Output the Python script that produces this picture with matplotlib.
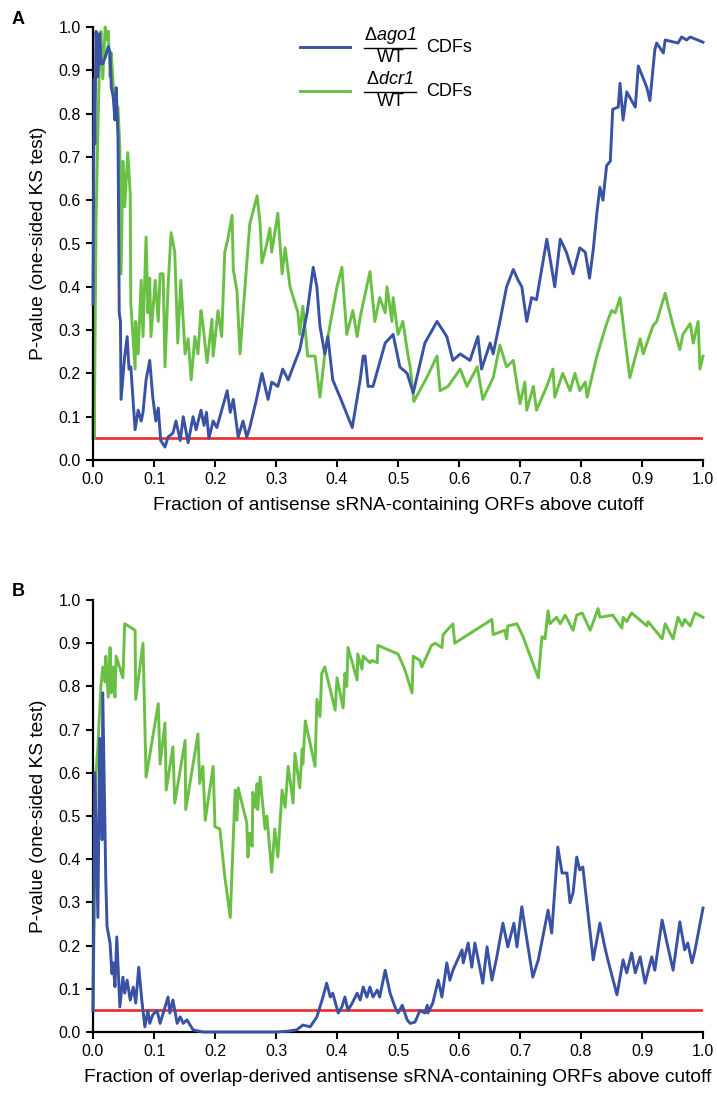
import matplotlib
matplotlib.use("Agg")
import matplotlib.pyplot as plt
from matplotlib.lines import Line2D
from matplotlib.ticker import MultipleLocator, FormatStrFormatter

plt.rcParams['font.family'] = ['Liberation Sans', 'DejaVu Sans']
plt.rcParams['mathtext.fontset'] = 'custom'
plt.rcParams['mathtext.rm'] = 'Liberation Sans'
plt.rcParams['mathtext.it'] = 'Liberation Sans:italic'
plt.rcParams['mathtext.bf'] = 'Liberation Sans:bold'

# ---------------- data (x = fraction above cutoff, y = P-value) ----------------
blue_a = [(0.000,0.36),(0.002,0.88),(0.003,0.73),(0.005,0.99),(0.008,0.885),(0.011,0.985),(0.013,0.915),
          (0.016,0.915),(0.020,0.93),(0.025,0.955),(0.028,0.94),(0.030,0.86),(0.033,0.84),(0.036,0.785),
          (0.038,0.86),(0.041,0.745),(0.043,0.34),(0.045,0.32),(0.046,0.14),(0.052,0.24),(0.056,0.285),
          (0.059,0.21),(0.062,0.215),(0.069,0.07),(0.074,0.115),(0.079,0.09),(0.082,0.11),(0.087,0.185),
          (0.093,0.23),(0.098,0.145),(0.103,0.09),(0.107,0.12),(0.111,0.045),(0.118,0.03),(0.123,0.053),
          (0.131,0.062),(0.136,0.09),(0.143,0.045),(0.148,0.10),(0.156,0.04),(0.164,0.10),(0.169,0.07),
          (0.177,0.115),(0.182,0.08),(0.186,0.11),(0.190,0.05),(0.197,0.09),(0.203,0.075),(0.212,0.12),
          (0.220,0.16),(0.225,0.11),(0.230,0.14),(0.238,0.053),(0.246,0.09),(0.252,0.053),(0.257,0.075),
          (0.268,0.14),(0.277,0.20),(0.287,0.14),(0.293,0.18),(0.303,0.17),(0.311,0.21),(0.320,0.185),
          (0.328,0.215),(0.339,0.255),(0.351,0.34),(0.361,0.445),(0.367,0.40),(0.372,0.31),(0.380,0.245),
          (0.385,0.285),(0.393,0.185),(0.405,0.145),(0.415,0.11),(0.425,0.075),(0.438,0.185),(0.443,0.24),
          (0.446,0.24),(0.451,0.17),(0.459,0.17),(0.479,0.27),(0.492,0.29),(0.503,0.215),(0.515,0.20),
          (0.525,0.155),(0.544,0.27),(0.564,0.32),(0.580,0.285),(0.590,0.23),(0.602,0.245),(0.618,0.23),
          (0.631,0.285),(0.637,0.21),(0.651,0.27),(0.656,0.245),(0.667,0.32),(0.678,0.40),(0.689,0.44),
          (0.697,0.415),(0.703,0.40),(0.711,0.32),(0.719,0.375),(0.727,0.37),(0.744,0.51),(0.757,0.40),
          (0.766,0.51),(0.776,0.48),(0.787,0.43),(0.798,0.49),(0.807,0.48),(0.814,0.42),(0.820,0.485),
          (0.826,0.57),(0.831,0.63),(0.836,0.60),(0.842,0.68),(0.848,0.69),(0.852,0.81),(0.861,0.815),
          (0.864,0.87),(0.869,0.785),(0.875,0.85),(0.883,0.83),(0.889,0.815),(0.894,0.91),(0.908,0.86),
          (0.913,0.83),(0.921,0.947),(0.924,0.963),(0.935,0.94),(0.938,0.97),(0.959,0.963),(0.965,0.977),
          (0.973,0.97),(0.979,0.977),(1.000,0.965)]

green_a = [(0.000,0.05),(0.001,0.36),(0.002,0.05),(0.005,0.555),(0.008,0.76),(0.011,0.94),(0.013,0.99),
           (0.016,0.88),(0.020,1.0),(0.021,0.97),(0.025,0.99),(0.028,0.885),(0.030,0.94),(0.036,0.80),
           (0.041,0.815),(0.044,0.72),(0.046,0.43),(0.049,0.69),(0.052,0.585),(0.057,0.71),(0.061,0.615),
           (0.062,0.36),(0.069,0.21),(0.070,0.32),(0.074,0.245),(0.079,0.415),(0.082,0.285),(0.087,0.515),
           (0.090,0.34),(0.093,0.42),(0.095,0.285),(0.102,0.415),(0.107,0.32),(0.110,0.43),(0.115,0.43),
           (0.118,0.215),(0.123,0.40),(0.128,0.525),(0.134,0.48),(0.139,0.27),(0.144,0.415),(0.151,0.245),
           (0.156,0.28),(0.161,0.185),(0.167,0.285),(0.172,0.245),(0.177,0.345),(0.180,0.315),(0.187,0.225),
           (0.195,0.325),(0.197,0.24),(0.205,0.345),(0.211,0.285),(0.216,0.48),(0.221,0.51),(0.228,0.565),
           (0.230,0.44),(0.236,0.39),(0.241,0.245),(0.246,0.34),(0.257,0.545),(0.269,0.61),(0.274,0.545),
           (0.277,0.455),(0.285,0.50),(0.290,0.535),(0.293,0.48),(0.303,0.57),(0.310,0.43),(0.315,0.49),
           (0.323,0.40),(0.336,0.34),(0.339,0.29),(0.344,0.355),(0.352,0.24),(0.364,0.24),(0.372,0.145),
           (0.380,0.245),(0.393,0.345),(0.400,0.40),(0.408,0.445),(0.416,0.29),(0.426,0.345),(0.433,0.285),
           (0.438,0.33),(0.454,0.435),(0.462,0.32),(0.470,0.375),(0.479,0.34),(0.482,0.40),(0.490,0.32),
           (0.492,0.375),(0.500,0.29),(0.508,0.32),(0.516,0.245),(0.520,0.215),(0.526,0.135),(0.547,0.19),
           (0.564,0.24),(0.569,0.16),(0.582,0.17),(0.602,0.21),(0.613,0.17),(0.630,0.215),(0.639,0.14),
           (0.656,0.19),(0.667,0.265),(0.678,0.215),(0.689,0.23),(0.700,0.13),(0.708,0.18),(0.711,0.115),
           (0.722,0.17),(0.727,0.115),(0.744,0.17),(0.754,0.21),(0.757,0.145),(0.770,0.20),(0.782,0.16),
           (0.790,0.20),(0.798,0.16),(0.807,0.18),(0.810,0.145),(0.826,0.24),(0.842,0.315),(0.850,0.345),
           (0.856,0.34),(0.864,0.375),(0.872,0.28),(0.880,0.19),(0.897,0.28),(0.902,0.245),(0.918,0.31),
           (0.924,0.32),(0.938,0.385),(0.943,0.355),(0.951,0.31),(0.962,0.255),(0.967,0.29),(0.979,0.315),
           (0.984,0.27),(0.992,0.32),(0.995,0.21),(1.000,0.24)]

blue_b = [(0.000,0.05),(0.003,0.60),(0.008,0.265),(0.011,0.68),(0.015,0.445),(0.016,0.785),(0.021,0.35),
          (0.023,0.245),(0.028,0.205),(0.031,0.135),(0.033,0.16),(0.036,0.105),(0.039,0.22),(0.044,0.058),
          (0.049,0.127),(0.052,0.09),(0.056,0.12),(0.061,0.074),(0.066,0.104),(0.070,0.067),(0.075,0.15),
          (0.080,0.074),(0.085,0.012),(0.090,0.05),(0.093,0.02),(0.098,0.04),(0.105,0.05),(0.110,0.02),
          (0.118,0.058),(0.123,0.081),(0.126,0.044),(0.131,0.074),(0.138,0.02),(0.143,0.035),(0.148,0.02),
          (0.154,0.028),(0.164,0.005),(0.180,0.0),(0.300,0.0),(0.320,0.002),(0.334,0.005),(0.344,0.016),
          (0.356,0.012),(0.367,0.035),(0.377,0.081),(0.383,0.113),(0.389,0.081),(0.393,0.09),(0.402,0.044),
          (0.408,0.058),(0.413,0.081),(0.418,0.05),(0.425,0.067),(0.433,0.09),(0.438,0.074),(0.443,0.104),
          (0.449,0.081),(0.454,0.104),(0.459,0.081),(0.466,0.097),(0.470,0.081),(0.479,0.143),(0.487,0.09),
          (0.495,0.058),(0.500,0.044),(0.507,0.062),(0.515,0.028),(0.520,0.02),(0.528,0.023),(0.536,0.05),
          (0.544,0.044),(0.548,0.062),(0.549,0.044),(0.557,0.067),(0.566,0.12),(0.572,0.081),(0.580,0.16),
          (0.585,0.12),(0.590,0.143),(0.605,0.19),(0.607,0.16),(0.615,0.206),(0.621,0.15),(0.626,0.206),
          (0.634,0.15),(0.639,0.113),(0.646,0.197),(0.654,0.12),(0.662,0.174),(0.672,0.252),(0.680,0.197),
          (0.690,0.252),(0.695,0.197),(0.703,0.29),(0.708,0.243),(0.721,0.127),(0.730,0.167),(0.746,0.282),
          (0.752,0.229),(0.762,0.428),(0.769,0.368),(0.777,0.368),(0.782,0.299),(0.787,0.322),(0.793,0.405),
          (0.798,0.375),(0.803,0.382),(0.820,0.167),(0.831,0.252),(0.839,0.197),(0.844,0.167),(0.859,0.086),
          (0.869,0.167),(0.875,0.137),(0.883,0.183),(0.889,0.137),(0.897,0.174),(0.905,0.113),(0.916,0.174),
          (0.921,0.143),(0.933,0.259),(0.941,0.206),(0.951,0.143),(0.962,0.255),(0.970,0.19),(0.975,0.206),
          (0.982,0.16),(0.987,0.19),(1.000,0.287)]

green_b = [(0.000,0.05),(0.005,0.60),(0.008,0.66),(0.013,0.80),(0.016,0.845),(0.020,0.81),(0.021,0.87),
           (0.025,0.775),(0.028,0.89),(0.030,0.785),(0.033,0.845),(0.036,0.775),(0.038,0.87),(0.049,0.82),
           (0.052,0.945),(0.069,0.93),(0.070,0.77),(0.082,0.90),(0.087,0.59),(0.107,0.76),(0.110,0.62),
           (0.118,0.715),(0.120,0.56),(0.131,0.66),(0.134,0.53),(0.151,0.675),(0.152,0.515),(0.172,0.69),
           (0.175,0.575),(0.180,0.615),(0.184,0.49),(0.197,0.615),(0.200,0.475),(0.208,0.47),(0.216,0.36),
           (0.225,0.265),(0.233,0.56),(0.236,0.49),(0.238,0.565),(0.252,0.485),(0.254,0.405),(0.257,0.46),
           (0.261,0.43),(0.262,0.555),(0.266,0.52),(0.269,0.575),(0.270,0.515),(0.274,0.59),(0.282,0.47),
           (0.285,0.50),(0.293,0.37),(0.298,0.47),(0.303,0.405),(0.310,0.56),(0.315,0.52),(0.320,0.615),
           (0.328,0.53),(0.331,0.645),(0.339,0.565),(0.343,0.655),(0.344,0.62),(0.348,0.72),(0.364,0.615),
           (0.367,0.77),(0.372,0.73),(0.375,0.83),(0.380,0.845),(0.397,0.745),(0.400,0.82),(0.410,0.75),
           (0.413,0.83),(0.416,0.80),(0.418,0.89),(0.433,0.815),(0.434,0.875),(0.441,0.84),(0.443,0.87),
           (0.454,0.855),(0.457,0.86),(0.466,0.855),(0.467,0.895),(0.500,0.875),(0.511,0.84),(0.523,0.785),
           (0.525,0.87),(0.536,0.86),(0.539,0.845),(0.555,0.895),(0.561,0.90),(0.572,0.89),(0.574,0.92),
           (0.590,0.945),(0.593,0.90),(0.654,0.955),(0.656,0.92),(0.675,0.93),(0.678,0.91),(0.680,0.94),
           (0.695,0.945),(0.705,0.915),(0.730,0.82),(0.736,0.915),(0.741,0.91),(0.746,0.975),(0.749,0.945),
           (0.760,0.96),(0.766,0.945),(0.774,0.965),(0.787,0.93),(0.793,0.965),(0.802,0.97),(0.815,0.93),
           (0.823,0.96),(0.828,0.98),(0.831,0.96),(0.852,0.965),(0.867,0.935),(0.869,0.96),(0.875,0.95),
           (0.883,0.97),(0.908,0.94),(0.910,0.95),(0.933,0.91),(0.938,0.945),(0.951,0.91),(0.959,0.96),
           (0.966,0.94),(0.970,0.955),(0.979,0.94),(0.987,0.97),(1.000,0.96)]

threshold = 0.05
legend_numerators = [r'$\Delta$ago1', r'$\Delta$dcr1']
legend_denominator = 'WT'
legend_suffix = 'CDFs'
xlabels = ['Fraction of antisense sRNA-containing ORFs above cutoff',
           'Fraction of overlap-derived antisense sRNA-containing ORFs above cutoff']
ylabel = 'P-value (one-sided KS test)'
panel_letters = ['A', 'B']

BLUE = '#3a52a3'
GREEN = '#6abf45'
RED = '#ee2a2e'
colors = [BLUE, GREEN]

W, H = 717, 1106
fig = plt.figure(figsize=(W / 100, H / 100), dpi=100)
axA = fig.add_axes([93 / W, 646 / H, 610 / W, 433 / H])
axB = fig.add_axes([93 / W, 74 / H, 610 / W, 432 / H])

TFS = 11.5   # tick labels
LFS = 13.8   # axis labels
panels = [(axA, blue_a, green_a), (axB, blue_b, green_b)]
for i, (ax, bl, gr) in enumerate(panels):
    bx, by = zip(*bl)
    gx, gy = zip(*gr)
    ax.axhline(threshold, color=RED, lw=1.9, zorder=1)
    ax.plot(bx, by, color=BLUE, lw=2.1, zorder=3, clip_on=False)
    ax.plot(gx, gy, color=GREEN, lw=2.1, zorder=2, clip_on=False)
    ax.set_xlim(0, 1)
    ax.set_ylim(0, 1)
    for s in ['top', 'right']:
        ax.spines[s].set_visible(False)
    for s in ['left', 'bottom']:
        ax.spines[s].set_linewidth(1.6)
    ax.xaxis.set_major_locator(MultipleLocator(0.1))
    ax.yaxis.set_major_locator(MultipleLocator(0.1))
    ax.xaxis.set_major_formatter(FormatStrFormatter('%.1f'))
    ax.yaxis.set_major_formatter(FormatStrFormatter('%.1f'))
    ax.tick_params(direction='out', length=5, width=1.5, labelsize=TFS, pad=4)
    ax.set_xlabel(xlabels[i], fontsize=LFS, labelpad=7)
    ax.set_ylabel(ylabel, fontsize=LFS, labelpad=8)

# ---- legend (fraction-style labels), laid out in figure pixels ----
def fx(px):
    return px / W

def fy(py):
    return 1 - py / H

for k, (col, num) in enumerate(zip(colors, legend_numerators)):
    yc = 47 + 44 * k
    fig.add_artist(Line2D([fx(300), fx(350)], [fy(yc), fy(yc)], color=col, lw=2.1))
    fig.text(fx(390), fy(yc - 11), num, fontsize=13, fontstyle='italic', ha='center', va='center')
    fig.add_artist(Line2D([fx(364), fx(416)], [fy(yc + 1), fy(yc + 1)], color='black', lw=1.0))
    fig.text(fx(391), fy(yc + 11), legend_denominator, fontsize=13, ha='center', va='center')
    fig.text(fx(426), fy(yc), legend_suffix, fontsize=13, ha='left', va='center')

fig.text(12 / W, 1 - 20 / H, panel_letters[0], fontsize=13, fontweight='bold', va='center')
fig.text(12 / W, 1 - 592 / H, panel_letters[1], fontsize=13, fontweight='bold', va='center')

fig.savefig('out.png', dpi=100)
